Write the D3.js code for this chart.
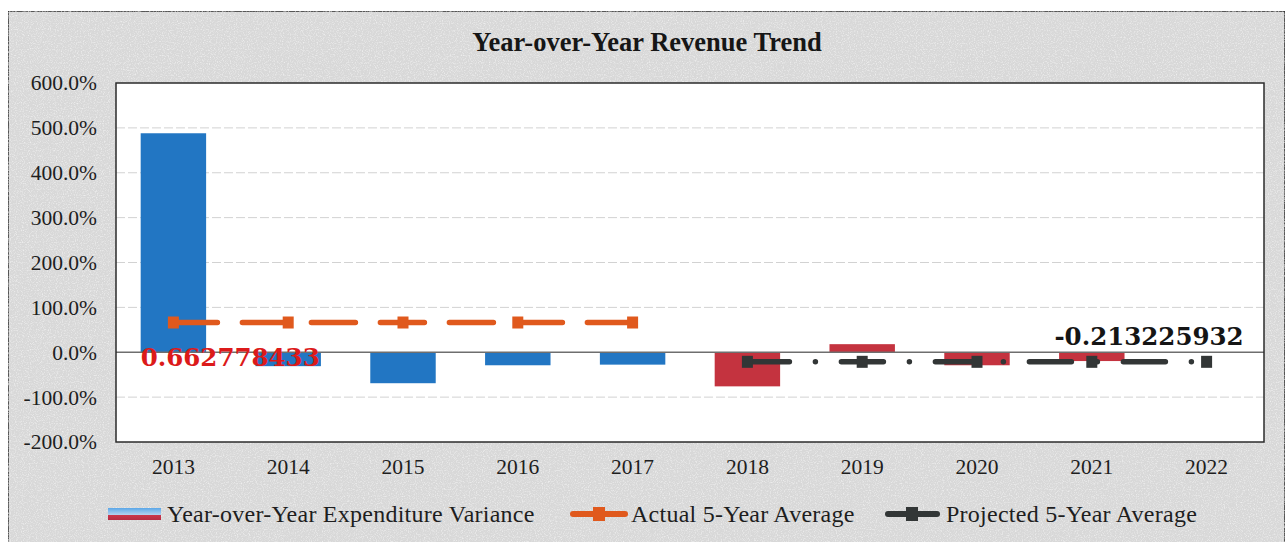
<!DOCTYPE html>
<html>
<head>
<meta charset="utf-8">
<script src="https://cdn.jsdelivr.net/npm/d3@7"></script>
<style>
  html, body { margin: 0; padding: 0; background: #ffffff; }
  svg { display: block; }
</style>
</head>
<body>
<svg id="chart" width="1287" height="542"></svg>
<script>
// Years shown on the category axis
const years = ["2013", "2014", "2015", "2016", "2017", "2018", "2019", "2020", "2021", "2022"];
// Year-over-year expenditure variance, in percent (2022 has no value)
const variance = [488.0, -31.0, -69.0, -29.0, -27.6, -76.0, 18.0, -29.0, -19.6, null];
// Period each bar belongs to: actual (2013-2017) or projected (2018-2022)
const period = ["actual", "actual", "actual", "actual", "actual",
                "projected", "projected", "projected", "projected", "projected"];
// Five-year averages (as fractions)
const actualAvgYears = ["2013", "2014", "2015", "2016", "2017"];
const actualAvg = [0.662778433, 0.662778433, 0.662778433, 0.662778433, 0.662778433];
const projectedAvgYears = ["2018", "2019", "2020", "2021", "2022"];
const projectedAvg = [-0.213225932, -0.213225932, -0.213225932, -0.213225932, -0.213225932];
// Value axis ticks, in percent
const yTicks = [-200, -100, 0, 100, 200, 300, 400, 500, 600];
const seriesNames = ["Year-over-Year Expenditure Variance", "Actual 5-Year Average", "Projected 5-Year Average"];

const W = 1287, H = 542;
const plot = { left: 116, top: 83, right: 1264, bottom: 442 };
const serif = "'Liberation Serif', 'Times New Roman', serif";
const colors = { actual: "#2276c3", projected: "#c4333f", actualLine: "#e0591d", projLine: "#323636" };

const svg = d3.select("#chart");

// Grainy gray card background
const defs = svg.append("defs");
const grain = defs.append("filter").attr("id", "grain").attr("x", 0).attr("y", 0).attr("width", 1).attr("height", 1);
grain.append("feTurbulence").attr("type", "fractalNoise").attr("baseFrequency", 0.85).attr("numOctaves", 2).attr("seed", 3).attr("result", "noise");
grain.append("feColorMatrix").attr("in", "noise").attr("type", "matrix")
  .attr("values", "0 0 0 0 0.98  0 0 0 0 0.98  0 0 0 0 0.98  0 0 0 -1.4 0.75").attr("result", "tint");
grain.append("feComposite").attr("in", "tint").attr("in2", "SourceGraphic").attr("operator", "in").attr("result", "tinted");
grain.append("feMerge").call(m => { m.append("feMergeNode").attr("in", "SourceGraphic"); m.append("feMergeNode").attr("in", "tinted"); });

const legendGrad = defs.append("linearGradient").attr("id", "legendGrad").attr("x1", 0).attr("y1", 0).attr("x2", 0).attr("y2", 1);
legendGrad.append("stop").attr("offset", "0%").attr("stop-color", "#5aa7e8");
legendGrad.append("stop").attr("offset", "60%").attr("stop-color", "#b9d3ee");
legendGrad.append("stop").attr("offset", "62%").attr("stop-color", "#c8354a");
legendGrad.append("stop").attr("offset", "100%").attr("stop-color", "#b62b42");

svg.append("rect").attr("x", 8).attr("y", 11).attr("width", 1277).attr("height", 540)
  .attr("fill", "#d8d8d8").attr("stroke", "#2b2b2b").attr("stroke-width", 1.5)
  .attr("filter", "url(#grain)");

// Plot area
svg.append("rect").attr("x", plot.left).attr("y", plot.top)
  .attr("width", plot.right - plot.left).attr("height", plot.bottom - plot.top)
  .attr("fill", "#ffffff");

const x = d3.scaleBand().domain(years).range([plot.left, plot.right]).paddingInner(0.43).paddingOuter(0.215);
const xc = d => d3.scaleBand().domain(years).range([plot.left, plot.right])(d) + (plot.right - plot.left) / years.length / 2;
const y = d3.scaleLinear().domain([-200, 600]).range([plot.bottom, plot.top]);

// Gridlines
svg.append("g").selectAll("line").data(yTicks.filter(t => t !== 0 && t !== 600 && t !== -200)).join("line")
  .attr("x1", plot.left).attr("x2", plot.right)
  .attr("y1", d => y(d)).attr("y2", d => y(d))
  .attr("stroke", "#d2d2d2").attr("stroke-width", 1).attr("stroke-dasharray", "9,3");

// Bars
svg.append("g").selectAll("rect").data(years.map((yr, i) => ({ yr, v: variance[i], p: period[i] })).filter(d => d.v !== null)).join("rect")
  .attr("x", d => x(d.yr)).attr("width", x.bandwidth())
  .attr("y", d => y(Math.max(0, d.v))).attr("height", d => Math.abs(y(d.v) - y(0)))
  .attr("fill", d => colors[d.p]);

// Zero line
svg.append("line").attr("x1", plot.left).attr("x2", plot.right).attr("y1", y(0)).attr("y2", y(0))
  .attr("stroke", "#6e6e6e").attr("stroke-width", 1.5);

// Plot frame
svg.append("rect").attr("x", plot.left).attr("y", plot.top)
  .attr("width", plot.right - plot.left).attr("height", plot.bottom - plot.top)
  .attr("fill", "none").attr("stroke", "#2b2b2b").attr("stroke-width", 1.5);

// Average lines
const line = d3.line().x(d => xc(d.yr)).y(d => y(d.v * 100));
const actualPts = actualAvgYears.map((yr, i) => ({ yr, v: actualAvg[i] }));
const projPts = projectedAvgYears.map((yr, i) => ({ yr, v: projectedAvg[i] }));

svg.append("path").datum(actualPts).attr("d", line).attr("fill", "none")
  .attr("stroke", colors.actualLine).attr("stroke-width", 5.5).attr("stroke-linecap", "round")
  .attr("stroke-dasharray", "44,25");
svg.append("g").selectAll("rect").data(actualPts).join("rect")
  .attr("x", d => xc(d.yr) - 5.5).attr("y", d => y(d.v * 100) - 6)
  .attr("width", 11).attr("height", 12).attr("fill", colors.actualLine);

svg.append("path").datum(projPts).attr("d", line).attr("fill", "none")
  .attr("stroke", colors.projLine).attr("stroke-width", 5.5).attr("stroke-linecap", "round")
  .attr("stroke-dasharray", "42,26,0,26");
svg.append("g").selectAll("rect").data(projPts).join("rect")
  .attr("x", d => xc(d.yr) - 5.5).attr("y", d => y(d.v * 100) - 6)
  .attr("width", 11).attr("height", 12).attr("fill", colors.projLine);

// Average value labels
svg.append("text").attr("x", x(actualAvgYears[0])).attr("y", y(0) + 14)
  .attr("font-family", "'DejaVu Serif', serif").attr("font-weight", "bold").attr("font-size", 24.5)
  .attr("fill", "#dc1a1a").text(String(actualAvg[0]));
svg.append("text").attr("x", xc(projectedAvgYears[4]) + 37).attr("y", y(projectedAvg[4] * 100) - 17)
  .attr("text-anchor", "end")
  .attr("font-family", "'DejaVu Serif', serif").attr("font-weight", "bold").attr("font-size", 24.5)
  .attr("fill", "#151515").text(String(projectedAvg[4]));

// Axes
const yAxis = svg.append("g").attr("transform", `translate(${plot.left},0)`)
  .call(d3.axisLeft(y).tickValues(yTicks).tickFormat(d => d.toFixed(1) + "%").tickSize(0).tickPadding(19));
const xAxis = svg.append("g").attr("transform", `translate(0,${plot.bottom})`)
  .call(d3.axisBottom(d3.scaleBand().domain(years).range([plot.left, plot.right])).tickSize(0).tickPadding(17));
[yAxis, xAxis].forEach(a => {
  a.select(".domain").remove();
  a.selectAll("text").attr("font-family", serif).attr("font-size", 21.5).attr("fill", "#1e1e1e");
});

// Title
svg.append("text").attr("x", 647).attr("y", 51).attr("text-anchor", "middle")
  .attr("font-family", serif).attr("font-weight", "bold").attr("font-size", 26.5).attr("fill", "#161616")
  .text("Year-over-Year Revenue Trend");

// Legend
const legendY = 514;
const lg = svg.append("g");
lg.append("rect").attr("x", 108).attr("y", legendY - 6).attr("width", 53).attr("height", 12).attr("fill", "url(#legendGrad)");
lg.append("text").attr("x", 167).attr("y", legendY + 8).text(seriesNames[0]);

lg.append("line").attr("x1", 573).attr("x2", 625).attr("y1", legendY).attr("y2", legendY)
  .attr("stroke", colors.actualLine).attr("stroke-width", 6).attr("stroke-linecap", "round");
lg.append("rect").attr("x", 593).attr("y", legendY - 7).attr("width", 12).attr("height", 14).attr("fill", colors.actualLine);
lg.append("text").attr("x", 631).attr("y", legendY + 8).text(seriesNames[1]);

lg.append("line").attr("x1", 888).attr("x2", 937).attr("y1", legendY).attr("y2", legendY)
  .attr("stroke", colors.projLine).attr("stroke-width", 6).attr("stroke-linecap", "round");
lg.append("rect").attr("x", 906).attr("y", legendY - 7).attr("width", 12).attr("height", 14).attr("fill", colors.projLine);
lg.append("text").attr("x", 946).attr("y", legendY + 8).text(seriesNames[2]);

lg.selectAll("text").attr("font-family", serif).attr("font-size", 24).attr("letter-spacing", 0.25).attr("fill", "#1e1e1e");
</script>
</body>
</html>
